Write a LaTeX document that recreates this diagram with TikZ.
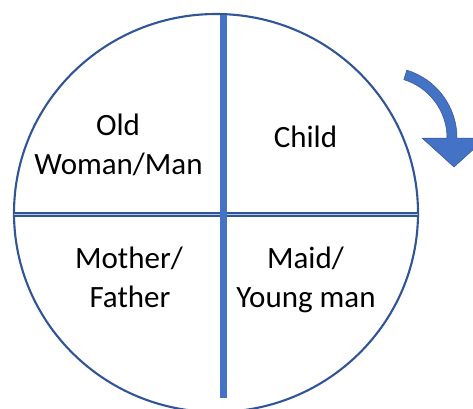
\documentclass[tikz,border=0pt]{standalone}
\usepackage{fontspec}
\setmainfont{Carlito}
\usetikzlibrary{calc}
\definecolor{ringblue}{HTML}{2F5597}
\definecolor{barblue}{HTML}{4472C4}
\definecolor{lightblue}{HTML}{B4C7E7}
\begin{document}
\begin{tikzpicture}[x=1pt,y=1pt,
  lbl/.style={inner sep=0pt, anchor=base, font=\fontsize{31}{38}\selectfont, text=black},
  ring/.style={draw=ringblue, line width=2.1pt},
  hbar/.style={draw=ringblue, line width=1.5pt, double=lightblue, double distance=1.6pt},
  vbar/.style={fill=barblue, draw=none},
  cyclearrow/.style={fill=barblue, draw=ringblue, line width=0.5pt, line join=miter}]
\useasboundingbox (0,0) rectangle (473,408);
\clip (0,0) rectangle (473,408);
% circle
\draw[ring] (216,195) ellipse [x radius=202, y radius=199];
% horizontal divider
\draw[hbar] (14,193.5) -- (418,193.5);
% vertical divider
\fill[vbar] (219.5,10) rectangle (226.5,393);
% labels
\node[lbl] (old1) at (118,273) {Old};
\node[lbl] (old2) at (118.5,234) {Woman/Man};
\node[lbl] (child) at (305.5,261) {Child};
\node[lbl] (moth1) at (129,140) {Mother/};
\node[lbl] (moth2) at (130,101) {Father};
\node[lbl] (maid1) at (305.5,140) {Maid/};
\node[lbl] (maid2) at (306,101) {Young man};
% curved arrow
\coordinate (ac) at (386,270);
\filldraw[cyclearrow] ($(ac)+(73:71)$) arc[start angle=73, end angle=0, radius=71]
  -- (486,270) -- (454,241) -- (422,270) -- (447,270)
  arc[start angle=0, end angle=73, radius=61] -- cycle;
\end{tikzpicture}
\end{document}
